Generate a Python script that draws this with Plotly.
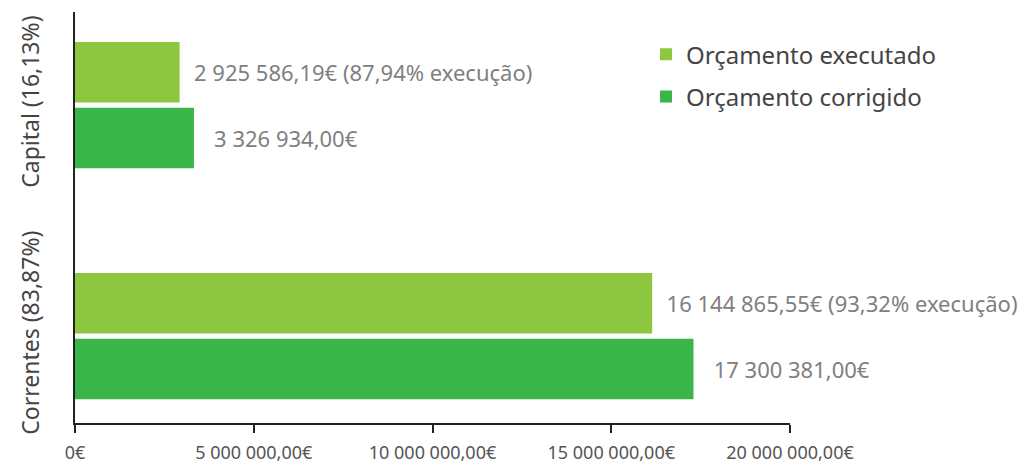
import plotly.graph_objects as go

categories = ["Correntes (83,87%)", "Capital (16,13%)"]
executado = [16144865.55, 2925586.19]
corrigido = [17300381.00, 3326934.00]
execucao_pct = ["93,32%", "87,94%"]
x_tickvals = [0, 5000000, 10000000, 15000000, 20000000]
x_ticktext = ["0€", "5 000 000,00€", "10 000 000,00€", "15 000 000,00€", "20 000 000,00€"]


def fmt_eur(v):
    s = f"{v:,.2f}"
    intpart, dec = s.split(".")
    return intpart.replace(",", " ") + "," + dec + "€"


txt_exec = [f"  {fmt_eur(v)} ({p} execução)" for v, p in zip(executado, execucao_pct)]
txt_corr = [f"   {fmt_eur(v)}" for v in corrigido]

FONT = "Noto Sans"
fig = go.Figure()
fig.add_trace(go.Bar(
    y=categories, x=corrigido, orientation="h", name="Orçamento corrigido",
    marker=dict(color="#39B54A", line=dict(width=0)),
    text=txt_corr, textposition="outside", cliponaxis=False,
    textfont=dict(family=FONT, size=22, color="#808080"),
    legendgroup="b", legendrank=2,
))
fig.add_trace(go.Bar(
    y=categories, x=executado, orientation="h", name="Orçamento executado",
    marker=dict(color="#8DC63F", line=dict(width=0)),
    text=txt_exec, textposition="outside", cliponaxis=False,
    textfont=dict(family=FONT, size=22, color="#808080"),
    legendgroup="a", legendrank=1,
))

# page body adds an 8px margin; figure is sized/offset to compensate
fig.update_layout(
    width=1025, height=457,
    margin=dict(l=67, r=243, t=4, b=42, autoexpand=False),
    paper_bgcolor="white", plot_bgcolor="white",
    barmode="group", bargap=0.43, bargroupgap=0.08,
    font=dict(family=FONT, color="#555555"),
    showlegend=True,
    legend=dict(
        x=0.7986, y=0.951, xref="paper", yref="paper", xanchor="left", yanchor="top",
        traceorder="grouped", tracegroupgap=8,
        font=dict(family=FONT, size=24, color="#444444"),
        bgcolor="rgba(0,0,0,0)",
    ),
    uniformtext=dict(mode=False),
)
fig.update_xaxes(
    range=[0, 20000000], tickvals=x_tickvals, ticktext=x_ticktext,
    showgrid=False, zeroline=False, automargin=False,
    showline=True, linecolor="#222222", linewidth=2,
    ticks="outside", ticklen=8, tickwidth=2, tickcolor="#222222",
    tickfont=dict(family=FONT, size=18, color="#555555"),
    ticklabelstandoff=4,
)
fig.update_yaxes(
    range=[-0.376, 1.403], showgrid=False, zeroline=False, automargin=False,
    showline=True, linecolor="#222222", linewidth=2,
    ticks="", tickangle=-90,
    tickfont=dict(family=FONT, size=23, color="#444444"),
    ticklabelstandoff=25,
)

fig.write_html("out.html")
